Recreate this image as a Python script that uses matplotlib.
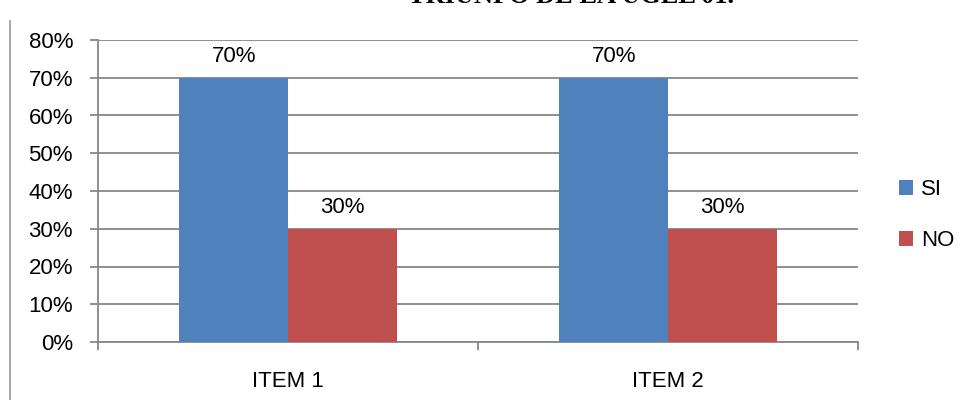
import matplotlib
matplotlib.use('Agg')
import matplotlib.pyplot as plt
from matplotlib.lines import Line2D
import numpy as np

# Data
items = ['ITEM 1', 'ITEM 2']
si_values = [70, 70]
no_values = [30, 30]
y_ticks = [0, 10, 20, 30, 40, 50, 60, 70, 80]
title = 'TRIUNFO DE LA UGEL 01.'

blue = '#4F81BD'
red = '#C0504D'
grid_gray = '#878787'

plt.rcParams['font.family'] = ['Liberation Sans', 'DejaVu Sans']
fs = 16

fig = plt.figure(figsize=(9.68, 4), dpi=100)
ax = fig.add_axes([98 / 968, 58 / 400, 760 / 968, 302 / 400])

x = np.arange(len(items))
w = 0.286
b1 = ax.bar(x - w / 2, si_values, w, color=blue, label='SI', zorder=3)
b2 = ax.bar(x + w / 2, no_values, w, color=red, label='NO', zorder=3)

for bars, vals in [(b1, si_values), (b2, no_values)]:
    for rect, v in zip(bars, vals):
        ax.annotate('%d%%' % v, (rect.get_x() + rect.get_width() / 2, v),
                    xytext=(0, 8), textcoords='offset points',
                    ha='center', va='bottom', fontsize=fs)

ax.set_xlim(-0.5, len(items) - 0.5)
ax.set_ylim(0, 80)
ax.set_yticks(y_ticks)
ax.set_yticklabels(['%d%%' % t for t in y_ticks], fontsize=fs)
ax.set_xticks(x)
ax.set_xticklabels(items, fontsize=fs)
ax.tick_params(axis='x', length=0, pad=21)
ax.set_xticks(np.arange(-0.5, len(items)), minor=True)
ax.tick_params(axis='x', which='minor', length=6, direction='out',
               color=grid_gray, width=1.3)
ax.tick_params(axis='y', length=6, direction='out', color=grid_gray,
               width=1.3, pad=12)

ax.grid(axis='y', color=grid_gray, linewidth=1.3, zorder=0)
for s in ['top', 'right']:
    ax.spines[s].set_visible(False)
for s in ['left', 'bottom']:
    ax.spines[s].set_color(grid_gray)
    ax.spines[s].set_linewidth(1.3)

fig.legend(handles=[b1, b2], loc='center left',
           bbox_to_anchor=(899 / 968, 1 - 215 / 400), frameon=False,
           fontsize=fs, handlelength=0.65, handleheight=0.65,
           handletextpad=0.35, labelspacing=1.35, borderpad=0,
           borderaxespad=0)

# Cut-off title and left border line
fig.text(0.59, 0.98, title, ha='center', va='bottom', fontsize=19,
         fontweight='bold', family='Liberation Serif')
fig.add_artist(Line2D([9.5 / 968, 9.5 / 968], [0, 1 - 21 / 400],
                      color='#a0a0a0', linewidth=1.3))

fig.savefig('out.png', dpi=100)
